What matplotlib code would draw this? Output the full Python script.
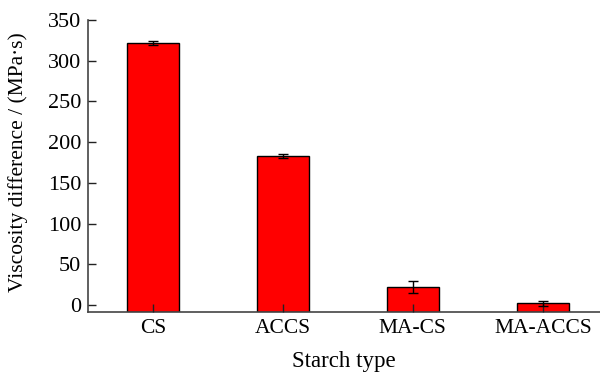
import matplotlib
matplotlib.use("Agg")
import matplotlib.pyplot as plt
import numpy as np

categories = ["CS", "ACCS", "MA-CS", "MA-ACCS"]
values = [322, 183, 22.5, 2]
errors = [2.5, 3, 7.5, 3.5]

plt.rcParams['font.family'] = ['Liberation Serif', 'DejaVu Serif']

fig = plt.figure(figsize=(6.0, 3.74), dpi=100)
ax = fig.add_axes([88/600, 1-312/374, 1-88/600, (312-20)/374])

ymin, ymax = -8.6, 350
x = np.arange(len(categories))
vals = np.array(values)
ax.bar(x, vals - ymin, bottom=ymin, width=0.4, color='#ff0000', edgecolor='black',
       linewidth=1.0, zorder=2)
ax.errorbar(x, vals, yerr=errors, fmt='none', ecolor='black', elinewidth=1.0,
            capsize=3.5, capthick=1.0, zorder=3)

ax.set_axisbelow(False)
ax.set_xlim(-0.5, 3.44)
ax.set_ylim(ymin, ymax)
ax.set_yticks([0, 50, 100, 150, 200, 250, 300, 350])
ax.set_xticks(x)
ax.set_xticklabels(categories)

for s in ['top', 'right']:
    ax.spines[s].set_visible(False)
for s in ['left', 'bottom']:
    ax.spines[s].set_color('#444444')
    ax.spines[s].set_linewidth(1.2)

ax.tick_params(axis='both', direction='in', length=6, width=1.0, color='#222222',
               labelsize=15.5)
ax.tick_params(axis='y', pad=5, labelsize=16)
ax.tick_params(axis='x', pad=5)

fig.text(18/600, 1-162/374, "Viscosity difference / (MPa·s)", rotation=90,
         ha='center', va='center', fontsize=15.5)
fig.text(344/600, 1-362/374, "Starch type", ha='center', va='center', fontsize=16.5)

fig.savefig("out.png", dpi=100)
